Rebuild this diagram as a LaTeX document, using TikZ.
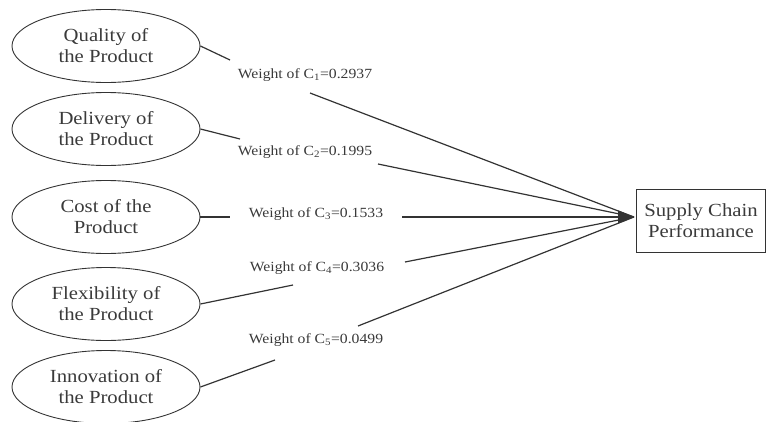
\documentclass[tikz,border=0pt]{standalone}
\usepackage{fontspec}
\setmainfont{Liberation Serif}[FakeStretch=1.12]
\usetikzlibrary{arrows.meta,shapes.geometric}
\definecolor{ink}{HTML}{3A3A3A}
\definecolor{ln}{HTML}{333333}
\begin{document}
\begin{tikzpicture}[x=1pt,y=-1pt,
  crit/.style={ellipse,draw=ln,line width=0.9pt,minimum width=188pt,minimum height=73pt,
    inner sep=0pt,align=center,text=ink,font=\fontsize{18.5}{21}\selectfont},
  wlabel/.style={inner sep=4pt,text=ink,font=\fontsize{14}{15}\selectfont},
  perf/.style={rectangle,draw=ln,line width=0.9pt,minimum width=129pt,minimum height=63pt,
    align=center,text=ink,font=\fontsize{18.5}{21}\selectfont},
  link/.style={draw=ln,line width=1.2pt},
  tipped/.style={link,-{Triangle[length=16pt,width=13pt]}}]
\useasboundingbox (0,0) rectangle (766,421);
\node[crit] (e1) at (106,46) {Quality of\\the Product};
\node[crit] (e2) at (106,129) {Delivery of\\the Product};
\node[crit] (e3) at (106,217) {Cost of the\\Product};
\node[crit] (e4) at (106,304) {Flexibility of\\the Product};
\node[crit] (e5) at (106,387) {Innovation of\\the Product};
\node[perf] (box) at (701,221) {Supply Chain\\Performance};
\node[wlabel] (w1) at (305,75) {Weight of C\textsubscript{1}=0.2937};
\node[wlabel] (w2) at (305,152) {Weight of C\textsubscript{2}=0.1995};
\node[wlabel] (w3) at (316,214) {Weight of C\textsubscript{3}=0.1533};
\node[wlabel] (w4) at (317,268) {Weight of C\textsubscript{4}=0.3036};
\node[wlabel] (w5) at (316,340) {Weight of C\textsubscript{5}=0.0499};
\coordinate (tip) at (634,217);
\coordinate (a1) at (230,60);  \coordinate (b1) at (310,93);
\coordinate (a2) at (240,139); \coordinate (b2) at (378,164);
\coordinate (a3) at (230,217); \coordinate (b3) at (402,217);
\coordinate (a4) at (293,285); \coordinate (b4) at (405,262);
\coordinate (a5) at (275,360); \coordinate (b5) at (358,326);
% segments from the criteria to their weights
\draw[link] (e1.east) -- (a1);
\draw[link] (e2.east) -- (a2);
\draw[link] (e3.east) -- (a3);
\draw[link] (e4.east) -- (a4);
\draw[link] (e5.east) -- (a5);
% segments from the weights to the performance box
\draw[link] (b1) -- (tip);
\draw[link] (b2) -- (tip);
\draw[link] (b4) -- (tip);
\draw[link] (b5) -- (tip);
\draw[tipped] (b3) -- (tip);
\end{tikzpicture}
\end{document}
